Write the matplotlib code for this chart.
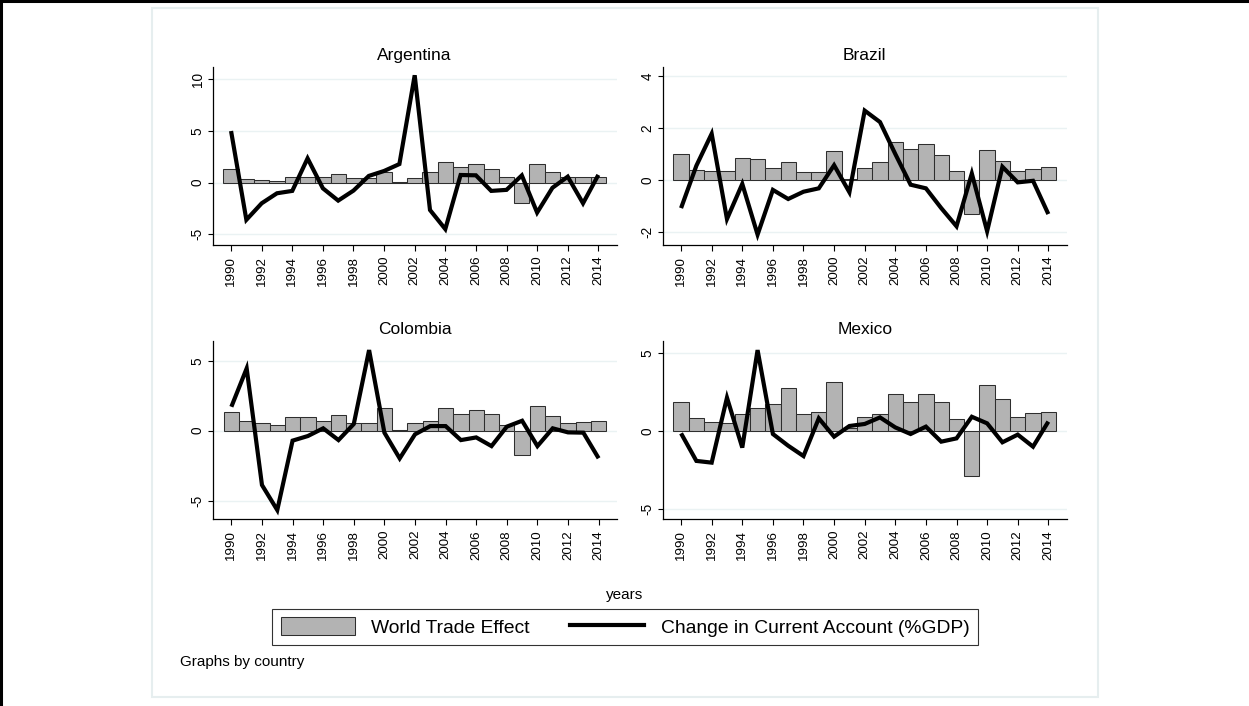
import matplotlib
matplotlib.use("Agg")
import matplotlib.pyplot as plt
from matplotlib.patches import Rectangle, Patch
from matplotlib.lines import Line2D

plt.rcParams['font.family'] = ['Liberation Sans', 'DejaVu Sans']

years = list(range(1990, 2015))
year_ticks = list(range(1990, 2015, 2))

countries = ["Argentina", "Brazil", "Colombia", "Mexico"]

arg_wte = [1.32, 0.39, 0.23, 0.16, 0.52, 0.58, 0.52, 0.81, 0.42, 0.42, 1.06, 0.05, 0.42,
           1.06, 1.97, 1.48, 1.80, 1.29, 0.52, -1.97, 1.80, 1.06, 0.50, 0.55, 0.58]
arg_ca = [5.0, -3.6, -2.0, -1.03, -0.8, 2.35, -0.55, -1.74, -0.77, 0.65, 1.13, 1.8, 10.4,
          -2.65, -4.5, 0.74, 0.71, -0.8, -0.7, 0.7, -2.9, -0.5, 0.58, -2.0, 0.75]

bra_wte = [1.02, 0.38, 0.34, 0.36, 0.83, 0.79, 0.47, 0.68, 0.29, 0.32, 1.12, 0.03, 0.46,
           0.68, 1.46, 1.20, 1.39, 0.97, 0.36, -1.31, 1.17, 0.74, 0.36, 0.42, 0.49]
bra_ca = [-1.08, 0.55, 1.78, -1.5, -0.15, -2.1, -0.38, -0.73, -0.45, -0.32, 0.57, -0.47, 2.67,
          2.23, 1.0, -0.18, -0.32, -1.08, -1.78, 0.25, -1.97, 0.51, -0.09, -0.03, -1.31]

col_wte = [1.36, 0.67, 0.57, 0.40, 0.95, 0.95, 0.69, 1.10, 0.52, 0.52, 1.60, 0.05, 0.52,
           0.71, 1.60, 1.17, 1.48, 1.17, 0.43, -1.74, 1.76, 1.07, 0.52, 0.60, 0.69]
col_ca = [1.71, 4.45, -3.88, -5.67, -0.71, -0.38, 0.17, -0.67, 0.48, 5.76, -0.14, -1.98, -0.26,
          0.33, 0.33, -0.67, -0.48, -1.1, 0.29, 0.71, -1.1, 0.17, -0.12, -0.14, -1.97]

mex_wte = [1.87, 0.81, 0.55, 0.49, 1.10, 1.45, 1.70, 2.77, 1.10, 1.23, 3.15, 0.17, 0.89,
           1.10, 2.38, 1.87, 2.34, 1.87, 0.74, -2.87, 2.94, 2.02, 0.91, 1.13, 1.23]
mex_ca = [-0.15, -1.91, -2.02, 2.13, -1.06, 5.17, -0.19, -0.94, -1.6, 0.81, -0.36, 0.32, 0.45,
          0.87, 0.23, -0.19, 0.28, -0.68, -0.47, 0.91, 0.49, -0.72, -0.23, -1.0, 0.6]

wte = [arg_wte, bra_wte, col_wte, mex_wte]
ca = [arg_ca, bra_ca, col_ca, mex_ca]
yticks = [[-5, 0, 5, 10], [-2, 0, 2, 4], [-5, 0, 5], [-5, 0, 5]]
ylims = [(-6.04, 11.23), (-2.5, 4.36), (-6.33, 6.43), (-5.64, 5.77)]

W, H = 1249, 706
fig = plt.figure(figsize=(W / 100, H / 100), dpi=100)

def fx(px):
    return px / W

def fy(py):
    return 1 - py / H

# outer light graph-region frame
fig.patches.append(Rectangle((fx(151.7), fy(696.7)), fx(1097.7) - fx(151.7), fy(8.3) - fy(696.7),
                             transform=fig.transFigure, facecolor='white',
                             edgecolor='#e6eeef', linewidth=1.5, zorder=-10))
# black image border (left and top)
fig.lines.append(Line2D([fx(1.2), fx(1.2)], [0, 1], transform=fig.transFigure, color='black',
                        lw=2.2, zorder=-5))
fig.lines.append(Line2D([0, 1], [fy(1.2), fy(1.2)], transform=fig.transFigure, color='black',
                        lw=2.2, zorder=-5))

panel_boxes = [
    (212.7, 66.7, 616.7, 245.0),
    (662.7, 66.7, 1066.7, 245.0),
    (213.0, 340.7, 617.0, 519.3),
    (662.7, 340.7, 1066.7, 519.3),
]

grid_color = '#eaf2f3'
for i, (l, t, r, b) in enumerate(panel_boxes):
    ax = fig.add_axes([fx(l), fy(b), fx(r) - fx(l), fy(t) - fy(b)], zorder=1)
    ax.set_facecolor('none')
    ax.bar(years, wte[i], width=1.0, color='#b3b3b3', edgecolor='#2e2e2e', linewidth=0.75, zorder=2)
    ax.plot(years, ca[i], color='black', linewidth=3.0, solid_joinstyle='miter',
            solid_capstyle='butt', zorder=3)
    ax.set_xlim(1988.8, 2015.2)
    ax.set_ylim(*ylims[i])
    ax.set_yticks(yticks[i])
    ax.set_xticks(year_ticks)
    ax.set_xticklabels([str(y) for y in year_ticks], rotation=90)
    ax.set_yticklabels([str(v) for v in yticks[i]], rotation=90, va='center')
    for yv in yticks[i]:
        ax.axhline(yv, color=grid_color, linewidth=1.0, zorder=1)
    for s in ['top', 'right']:
        ax.spines[s].set_visible(False)
    for s in ['left', 'bottom']:
        ax.spines[s].set_linewidth(0.9)
    ax.tick_params(axis='x', length=4.5, width=0.8, pad=3.2, labelsize=9.6)
    ax.tick_params(axis='y', length=3.4, width=0.8, pad=2.5, labelsize=9.8)
    ax.set_title(countries[i], fontsize=12.5, pad=4.5)

fig.text(fx(625), fy(595), "years", ha='center', va='center', fontsize=11)

handles = [Patch(facecolor='#b3b3b3', edgecolor='#2e2e2e', linewidth=0.75),
           Line2D([0], [0], color='black', linewidth=3.0)]
leg = fig.legend(handles, ["World Trade Effect", "Change in Current Account (%GDP)"],
                 loc='center', bbox_to_anchor=(fx(625), fy(627)), ncol=2,
                 fontsize=13.9, frameon=True, fancybox=False, shadow=False,
                 handlelength=3.85, handleheight=1.0, handletextpad=0.84,
                 columnspacing=2.1, borderpad=0.42, borderaxespad=0)
leg.get_frame().set_edgecolor('black')
leg.get_frame().set_linewidth(0.8)

fig.text(fx(180), fy(662), "Graphs by country", ha='left', va='center', fontsize=11)

fig.savefig("out.png", dpi=100)
